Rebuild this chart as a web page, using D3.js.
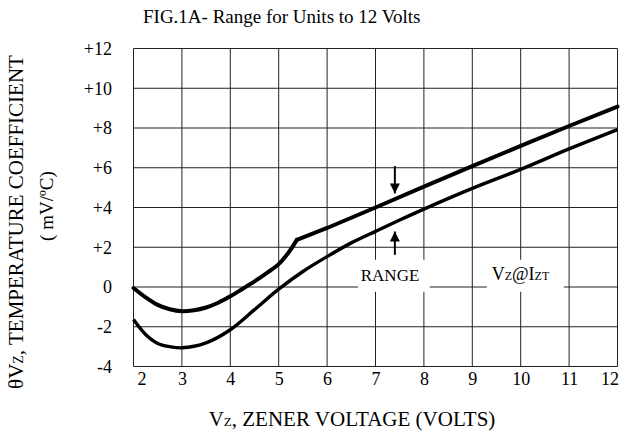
<!DOCTYPE html>
<html>
<head>
<meta charset="utf-8">
<script src="https://cdn.jsdelivr.net/npm/d3@7"></script>
<style>
  body { margin: 0; background: #fff; }
  text { font-family: "Liberation Serif", "Times New Roman", serif; fill: #000; }
</style>
</head>
<body>
<div id="chart"></div>
<script>
const xTicks = [2, 3, 4, 5, 6, 7, 8, 9, 10, 11, 12];
const yTicks = [-4, -2, 0, 2, 4, 6, 8, 10, 12];
const yTickLabels = ["-4", "-2", "0", "+2", "+4", "+6", "+8", "+10", "+12"];

// upper limit of the range, bends at 5.375 V then runs straight
const upperVz = [2, 2.25, 2.5, 2.75, 3, 3.25, 3.5, 3.75, 4, 4.25, 4.5, 4.75, 5, 5.2, 5.375, 6, 7, 8, 9, 10, 11, 12];
const upperTc = [-0.05, -0.52, -0.9, -1.12, -1.22, -1.17, -1.03, -0.79, -0.47, -0.1, 0.28, 0.7, 1.15, 1.72, 2.37, 2.97, 4.0, 5.05, 6.08, 7.1, 8.1, 9.08];
const upperKink = 14;

// lower limit of the range
const lowerVz = [2, 2.25, 2.5, 2.75, 3, 3.5, 4, 4.5, 5, 5.5, 6, 6.5, 7, 7.5, 8, 9, 10, 11, 12];
const lowerTc = [-1.64, -2.39, -2.84, -3.0, -3.06, -2.81, -2.15, -1.14, -0.11, 0.78, 1.53, 2.22, 2.8, 3.37, 3.92, 4.96, 5.92, 6.95, 7.92];

const W = 623, H = 436;
const margin = { top: 48, right: 5, bottom: 69, left: 133 },
      width = W - margin.left - margin.right,
      height = H - margin.top - margin.bottom;

const root = d3.select("#chart")
    .append("svg")
    .attr("width", W)
    .attr("height", H);

const svg = root.append("g")
    .attr("transform", `translate(${margin.left},${margin.top})`);

const x = d3.scaleLinear().domain([2, 12]).range([0.5, width - 0.5]);
const y = d3.scaleLinear().domain([-4, 12]).range([height - 0.5, 0.5]);

//Grid
svg.append("g")
    .selectAll("line")
    .data(xTicks)
    .enter()
    .append("line")
    .attr("x1", d => x(d)).attr("x2", d => x(d))
    .attr("y1", y(12)).attr("y2", y(-4))
    .attr("stroke", "#222")
    .attr("stroke-width", 1);

svg.append("g")
    .selectAll("line")
    .data(yTicks)
    .enter()
    .append("line")
    .attr("x1", x(2)).attr("x2", x(12))
    .attr("y1", d => y(d)).attr("y2", d => y(d))
    .attr("stroke", "#222")
    .attr("stroke-width", 1);

//White patches behind the labels
const boxes = [[6.64, 8.12], [9.3, 10.89]];
svg.append("g")
    .selectAll("rect")
    .data(boxes)
    .enter()
    .append("rect")
    .attr("x", d => x(d[0]))
    .attr("width", d => x(d[1]) - x(d[0]))
    .attr("y", y(1.37))
    .attr("height", y(-0.24) - y(1.37))
    .attr("fill", "#fff");

//Axes (labels only)
const xAxis = svg.append("g")
    .attr("transform", `translate(0,${height})`)
    .call(d3.axisBottom(x).tickValues(xTicks).tickSize(0).tickPadding(5).tickFormat(d3.format("d")));
xAxis.select(".domain").remove();
xAxis.selectAll("text")
    .style("font-size", "18px")
    .style("font-family", "Liberation Serif")
    .attr("dx", d => d === 2 ? 8 : d === 12 ? -8 : 0);

const yAxis = svg.append("g")
    .call(d3.axisLeft(y).tickValues(yTicks).tickSize(0).tickPadding(21)
        .tickFormat((d, i) => yTickLabels[i]));
yAxis.select(".domain").remove();
yAxis.selectAll("text")
    .style("font-size", "18px")
    .style("font-family", "Liberation Serif");

//Curves
const line = d3.line()
    .x(d => x(d[0]))
    .y(d => y(d[1]));

const upper = upperVz.map((v, i) => [v, upperTc[i]]);
const lower = lowerVz.map((v, i) => [v, lowerTc[i]]);

svg.append("path")
    .attr("fill", "none")
    .attr("stroke", "#000")
    .attr("stroke-width", 4)
    .attr("stroke-linecap", "round")
    .attr("d", line.curve(d3.curveCatmullRom)(upper.slice(0, upperKink + 1)));

svg.append("path")
    .attr("fill", "none")
    .attr("stroke", "#000")
    .attr("stroke-width", 4)
    .attr("stroke-linecap", "round")
    .attr("d", line.curve(d3.curveLinear)(upper.slice(upperKink)));

svg.append("path")
    .attr("fill", "none")
    .attr("stroke", "#000")
    .attr("stroke-width", 3.4)
    .attr("d", line.curve(d3.curveCatmullRom)(lower));

//Arrows
root.append("defs").append("marker")
    .attr("id", "head")
    .attr("markerUnits", "userSpaceOnUse")
    .attr("viewBox", "0 0 10 10")
    .attr("refX", 10).attr("refY", 5)
    .attr("markerWidth", 11).attr("markerHeight", 10)
    .attr("orient", "auto")
    .append("path")
    .attr("d", "M0,0 L10,5 L0,10 Z")
    .attr("fill", "#000");

const arrows = [[6.08, 4.71], [1.62, 2.79]];
svg.append("g")
    .selectAll("line")
    .data(arrows)
    .enter()
    .append("line")
    .attr("x1", x(7.4)).attr("x2", x(7.4))
    .attr("y1", d => y(d[0])).attr("y2", d => y(d[1]))
    .attr("stroke", "#000")
    .attr("stroke-width", 2)
    .attr("marker-end", "url(#head)");

//Labels inside the plot
svg.append("text")
    .attr("x", x(7.3))
    .attr("y", y(0.3))
    .attr("text-anchor", "middle")
    .style("font-size", "17px")
    .text("RANGE");

const vzLabel = svg.append("text")
    .attr("x", x(9.4))
    .attr("y", y(0.33))
    .style("font-size", "18px");
vzLabel.append("tspan").text("V");
vzLabel.append("tspan").style("font-size", "12px").text("Z");
vzLabel.append("tspan").text("@I");
vzLabel.append("tspan").style("font-size", "12px").text("ZT");

//Chart title
root.append("text")
    .attr("x", 143)
    .attr("y", 23)
    .style("font-size", "19px")
    .text("FIG.1A- Range for Units to 12 Volts");

//Axis labels
const xLabel = root.append("text")
    .attr("x", 352)
    .attr("y", 426)
    .attr("text-anchor", "middle")
    .style("font-size", "21px");
xLabel.append("tspan").text("V");
xLabel.append("tspan").style("font-size", "13px").text("Z");
xLabel.append("tspan").text(", ZENER VOLTAGE (VOLTS)");

const yLabel = root.append("text")
    .attr("transform", "translate(23,222) rotate(-90)")
    .attr("text-anchor", "middle")
    .style("font-size", "21px");
yLabel.append("tspan").text("θV");
yLabel.append("tspan").style("font-size", "14px").text("Z");
yLabel.append("tspan").text(", TEMPERATURE COEFFICIENT");

root.append("text")
    .attr("transform", "translate(53,206) rotate(-90)")
    .attr("text-anchor", "middle")
    .style("font-size", "19px")
    .text("( mV/ºC)");
</script>
</body>
</html>
